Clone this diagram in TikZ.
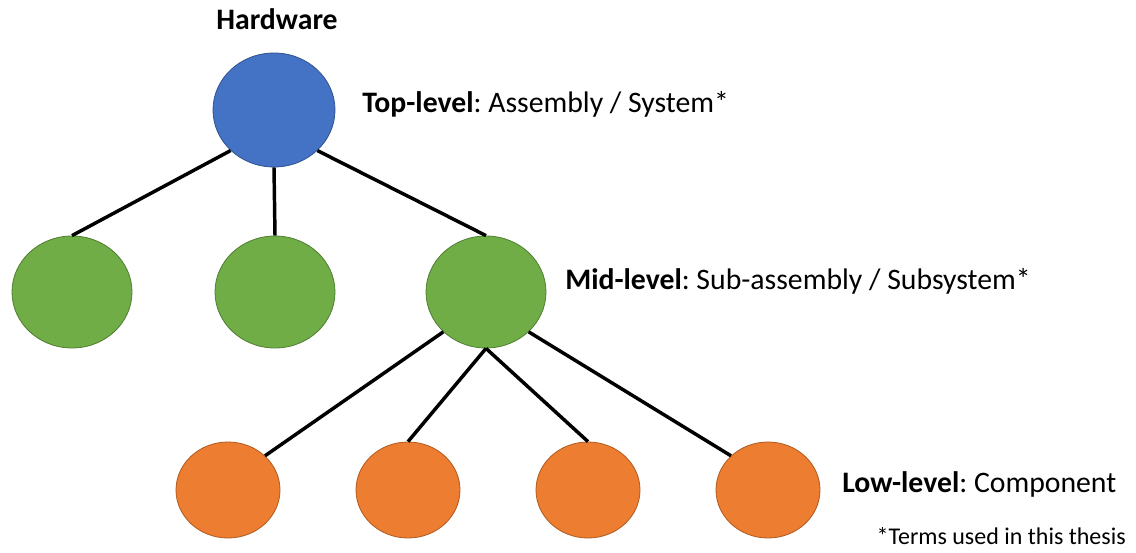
\documentclass[tikz,border=0pt]{standalone}
\usepackage{fontspec}
\setmainfont{Carlito}
\usetikzlibrary{shapes.geometric}
\frenchspacing
\definecolor{topblue}{HTML}{4472C4}
\definecolor{topedge}{HTML}{2F528F}
\definecolor{midgreen}{HTML}{70AD47}
\definecolor{midedge}{HTML}{507E32}
\definecolor{loworange}{HTML}{ED7D31}
\definecolor{lowedge}{HTML}{AE5A21}
\begin{document}
\begin{tikzpicture}[x=0.75pt,y=-0.75pt,
  topnode/.style={shape=ellipse, minimum width=91.5pt, minimum height=85.5pt, inner sep=0pt, fill=topblue, draw=topedge, line width=0.6pt},
  midnode/.style={shape=ellipse, minimum width=90pt, minimum height=84pt, inner sep=0pt, fill=midgreen, draw=midedge, line width=0.6pt},
  lownode/.style={shape=ellipse, minimum width=78pt, minimum height=72pt, inner sep=0pt, fill=loworange, draw=lowedge, line width=0.6pt},
  link/.style={line width=2.6pt, black},
  lbl/.style={anchor=base west, inner sep=0pt, font=\fontsize{22.3}{26}\selectfont}]
\useasboundingbox (0,0) rectangle (1136,553);

\path (274,110) node (Top) [topnode] {};
\path (72,292) node (Mid1) [midnode] {};
\path (275,292) node (Mid2) [midnode] {};
\path (486,292) node (Mid3) [midnode] {};
\path (228,490) node (Low1) [lownode] {};
\path (408,490) node (Low2) [lownode] {};
\path (588,490) node (Low3) [lownode] {};
\path (768,490) node (Low4) [lownode] {};

\draw [link] (Top.south west) to (Mid1.north);
\draw [link] (Top.south) to (Mid2.north);
\draw [link] (Top.south east) to (Mid3.north);
\draw [link] (Mid3.south west) to (Low1.north east);
\draw [link] (Mid3.south) to (Low2.north);
\draw [link] (Mid3.south) to (Low3.north);
\draw [link] (Mid3.south east) to (Low4.north west);

\path (277,29) node (hw) [anchor=base, inner sep=0pt, font=\fontsize{22.3}{26}\selectfont\bfseries] {Hardware};
\path (362,112) node (toplbl) [lbl] {\textbf{Top-level}: Assembly / System*};
\path (565,289) node (midlbl) [lbl] {\textbf{Mid-level}: Sub-assembly / Subsystem*};
\path (842,492) node (lowlbl) [lbl] {\textbf{Low-level}: Component};
\path (1126,544) node (note) [anchor=base east, inner sep=0pt, font=\fontsize{18}{21}\selectfont] {*Terms used in this thesis};

\end{tikzpicture}
\end{document}
